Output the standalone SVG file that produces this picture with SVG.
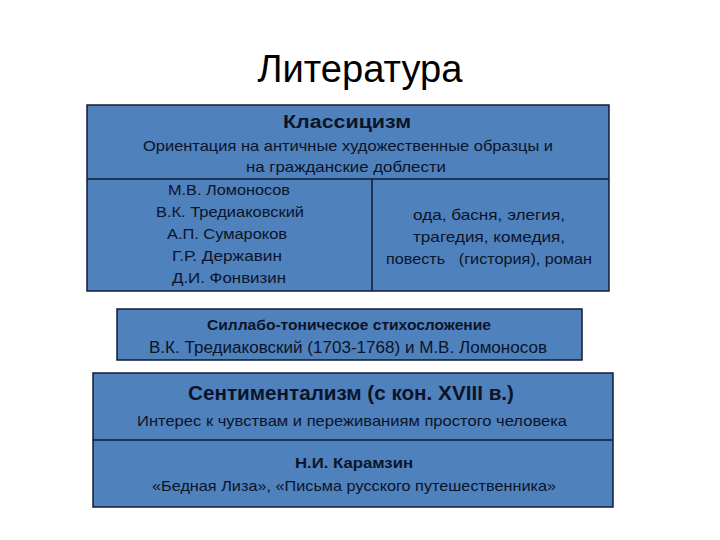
<svg xmlns="http://www.w3.org/2000/svg" width="720" height="540" viewBox="0 0 720 540">
<style>
.box{fill:#4F81BD;stroke:#0F1D36;stroke-width:1.5}
.ln{stroke:#0F1D36;stroke-width:1.5}
text{font-family:"Liberation Sans","DejaVu Sans",sans-serif;fill:#0B1428;text-anchor:middle}
.t{font-size:15px}
.b{font-size:16px;font-weight:bold}
</style>
<rect width="720" height="540" fill="#ffffff"/>
<text id="title" x="360" y="82" style="font-size:38px;fill:#000" textLength="205" lengthAdjust="spacingAndGlyphs">Литература</text>
<g id="classicism">
<rect class="box" x="87" y="105" width="522" height="186"/>
<line class="ln" x1="87" y1="179" x2="609" y2="179"/>
<line class="ln" x1="372" y1="179" x2="372" y2="291"/>
<text class="b" x="347" y="128" style="font-size:18px" textLength="128" lengthAdjust="spacingAndGlyphs">Классицизм</text>
<text class="t" x="348" y="151" textLength="410" lengthAdjust="spacingAndGlyphs">Ориентация на античные художественные образцы и</text>
<text class="t" x="346" y="172" textLength="200" lengthAdjust="spacingAndGlyphs">на гражданские доблести</text>
<text class="t" x="229" y="195" textLength="122" lengthAdjust="spacingAndGlyphs">М.В. Ломоносов</text>
<text class="t" x="230" y="217" textLength="148" lengthAdjust="spacingAndGlyphs">В.К. Тредиаковский</text>
<text class="t" x="227" y="239" textLength="120" lengthAdjust="spacingAndGlyphs">А.П. Сумароков</text>
<text class="t" x="227" y="261" textLength="110" lengthAdjust="spacingAndGlyphs">Г.Р. Державин</text>
<text class="t" x="229" y="283" textLength="114" lengthAdjust="spacingAndGlyphs">Д.И. Фонвизин</text>
<text class="t" x="489" y="220" textLength="152" lengthAdjust="spacingAndGlyphs">ода, басня, элегия,</text>
<text class="t" x="489" y="242" textLength="152" lengthAdjust="spacingAndGlyphs">трагедия, комедия,</text>
<text class="t" x="489" y="264" textLength="206" lengthAdjust="spacingAndGlyphs" xml:space="preserve">повесть   (гистория), роман</text>
</g>
<g id="syllabo">
<rect class="box" x="117" y="309" width="465" height="51"/>
<text class="t" x="349" y="330" style="font-weight:bold" textLength="284" lengthAdjust="spacingAndGlyphs">Силлабо-тоническое стихосложение</text>
<text class="t" x="348" y="353" style="font-size:16px" textLength="398" lengthAdjust="spacingAndGlyphs">В.К. Тредиаковский (1703-1768) и М.В. Ломоносов</text>
</g>
<g id="sentimentalism">
<rect class="box" x="93" y="373" width="520" height="134"/>
<line class="ln" x1="93" y1="440" x2="613" y2="440"/>
<text x="351" y="400" style="font-size:20px;font-weight:bold" textLength="326" lengthAdjust="spacingAndGlyphs">Сентиментализм (с кон. XVIII в.)</text>
<text class="t" x="352" y="426" textLength="430" lengthAdjust="spacingAndGlyphs">Интерес к чувствам и переживаниям простого человека</text>
<text class="t" x="354" y="468" style="font-weight:bold" textLength="118" lengthAdjust="spacingAndGlyphs">Н.И. Карамзин</text>
<text class="t" x="354" y="491" textLength="404" lengthAdjust="spacingAndGlyphs">«Бедная Лиза», «Письма русского путешественника»</text>
</g>
</svg>
